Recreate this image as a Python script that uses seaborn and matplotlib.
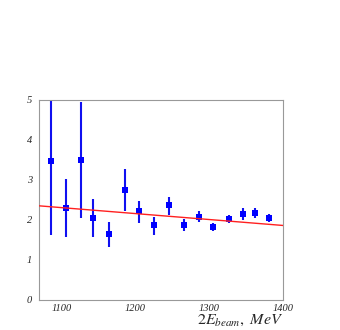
import matplotlib
matplotlib.use("Agg")
import matplotlib.pyplot as plt
import seaborn as sns
import pandas as pd
import numpy as np
from matplotlib.ticker import MultipleLocator

energy = [1086, 1106, 1127, 1143, 1165, 1186, 1205, 1225, 1246, 1266, 1286, 1305, 1327, 1346, 1362, 1381]
value = [3.46, 2.29, 3.49, 2.04, 1.65, 2.75, 2.21, 1.86, 2.36, 1.86, 2.08, 1.82, 2.02, 2.14, 2.17, 2.04]
err_up = [1.9, 0.73, 1.44, 0.48, 0.29, 0.52, 0.27, 0.22, 0.22, 0.16, 0.14, 0.10, 0.11, 0.15, 0.13, 0.10]
err_dn = [1.84, 0.72, 1.45, 0.47, 0.32, 0.52, 0.28, 0.23, 0.25, 0.14, 0.14, 0.10, 0.11, 0.15, 0.13, 0.10]
fit_x = [1070, 1400]
fit_y = [2.35, 1.86]

sns.set_style("white")
plt.rcParams['mathtext.fontset'] = 'stix'

df = pd.DataFrame({"E": energy, "v": value})
fit = pd.DataFrame({"E": fit_x, "v": fit_y})

fig = plt.figure(figsize=(3.4, 3.3), dpi=100)
ax = fig.add_axes([0.115, 0.091, 0.717, 0.607])

ax.errorbar(energy, value, yerr=[err_dn, err_up], fmt='none', ecolor='#1010f0', elinewidth=1.5, capsize=0, zorder=2)
sns.scatterplot(data=df, x="E", y="v", marker='s', s=20, color='#0000ff', edgecolor='#0000ff', linewidth=0, ax=ax, zorder=3)
sns.lineplot(data=fit, x="E", y="v", color='#ff2020', linewidth=1.0, ax=ax, zorder=4)

ax.set_xlim(1070, 1400)
ax.set_ylim(0, 5)
ax.xaxis.set_major_locator(MultipleLocator(100))
ax.xaxis.set_minor_locator(MultipleLocator(20))
ax.yaxis.set_major_locator(MultipleLocator(1))
ax.yaxis.set_minor_locator(MultipleLocator(0.2))
ax.tick_params(which='both', direction='in', color='#999999', width=0.8)
ax.tick_params(which='major', length=6)
ax.tick_params(which='minor', length=3)
ax.tick_params(axis='y', which='major', pad=5)
ax.tick_params(axis='x', which='major', pad=3)
for lab in ax.get_xticklabels() + ax.get_yticklabels():
    lab.set_fontfamily('Liberation Serif')
    lab.set_fontstyle('italic')
    lab.set_fontsize(7.5)
for sp in ax.spines.values():
    sp.set_color('#999999')
    sp.set_linewidth(0.8)

ax.set_ylabel("")
ax.set_xlabel(r'$2E_{beam},\ MeV$', fontsize=11.5, loc='right', labelpad=0)

fig.savefig("out.png", dpi=100)
